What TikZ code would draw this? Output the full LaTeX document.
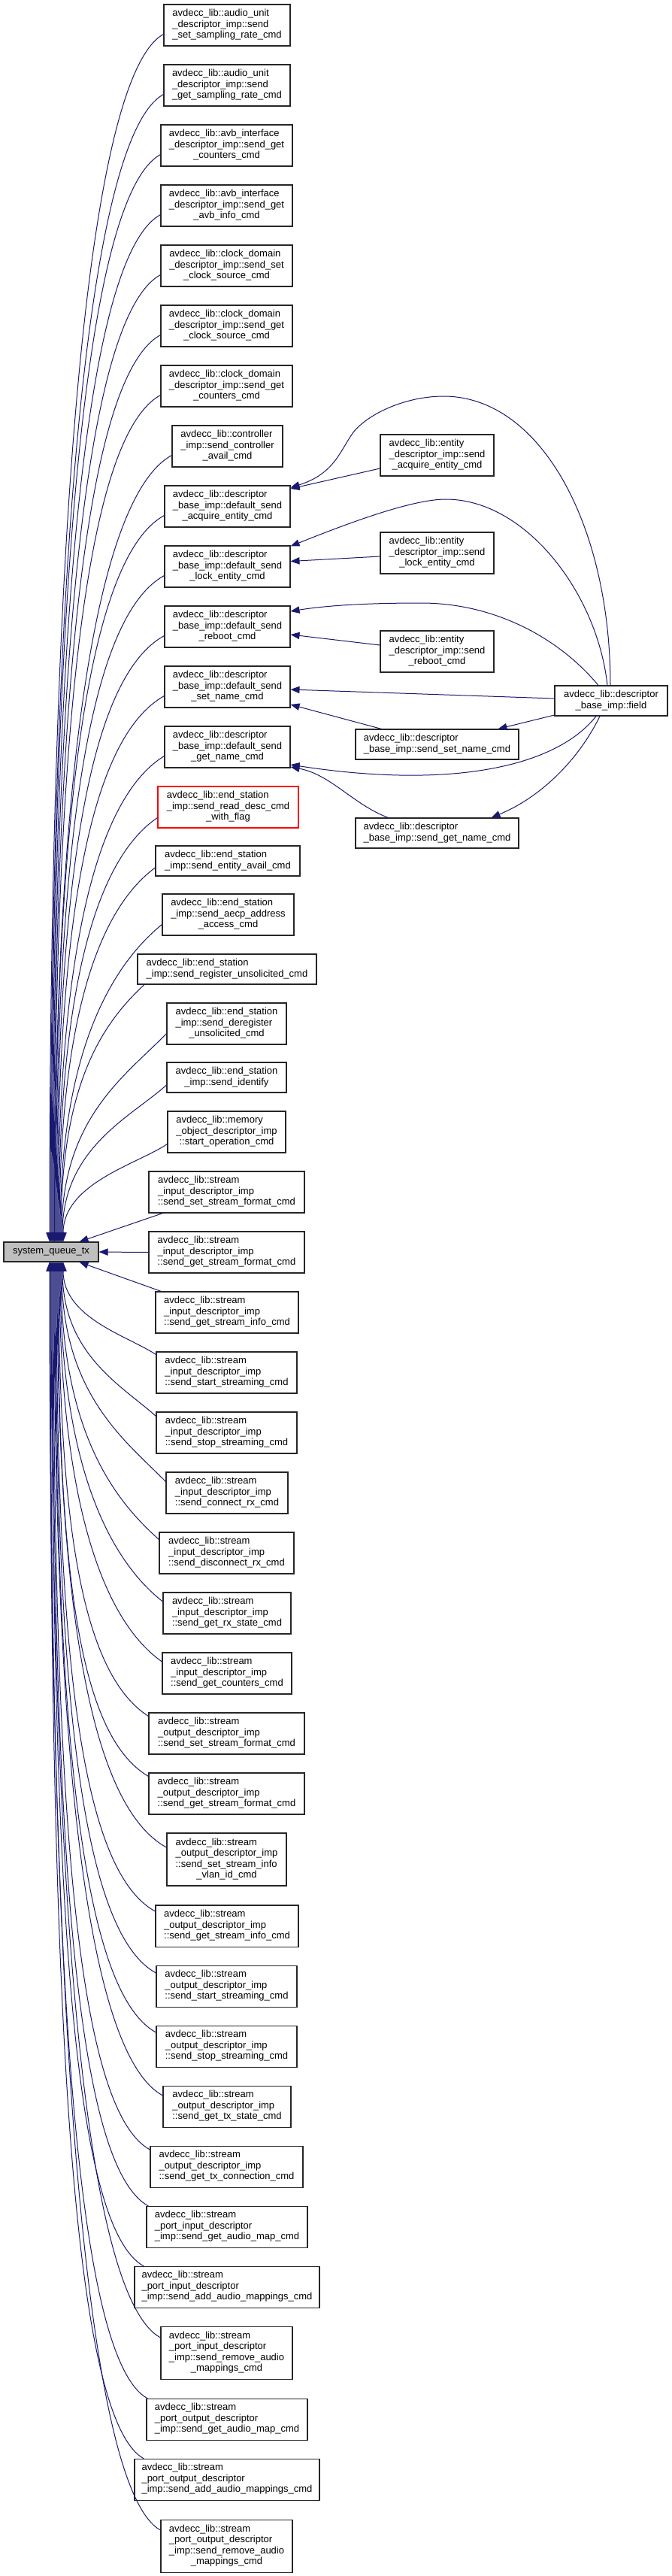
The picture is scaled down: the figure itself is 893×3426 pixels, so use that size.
\documentclass[tikz,border=0pt]{standalone}
\usepackage{fontspec}
\setmainfont{Liberation Sans}
\usetikzlibrary{arrows.meta,calc}
\definecolor{edgeblue}{HTML}{191970}
\newcommand\nf{\fontsize{9.75pt}{10.9pt}\selectfont}
\newcommand\lbl[2]{\begin{tabular}{@{}l@{}}#1\\\multicolumn{1}{@{}c@{}}{#2}\end{tabular}}
\newcommand\mknode[6][box]{\node[#1,minimum width=#4*0.75pt,minimum height=#5*0.75pt] (#2) at (#3) {#6};}
\tikzset{
  box/.style={draw=black!85,line width=0.8pt,fill=white,inner sep=0pt,font=\nf},
  redbox/.style={box,draw=red},
  fnbox/.style={box,fill=gray!50},
  callarrow/.style={draw=edgeblue,line width=0.75pt,-{Triangle[length=9pt,width=7pt]}}
}
\begin{document}
\begin{tikzpicture}[x=0.75pt,y=-0.75pt]
\useasboundingbox (0,0) rectangle (893,3426);
% left column
\mknode{n1}{302,33.5}{168}{55}{\lbl{avdecc\_lib::audio\_unit\\\_descriptor\_imp::send}{\_set\_sampling\_rate\_cmd}}
\mknode{n2}{302,113.5}{168}{55}{\lbl{avdecc\_lib::audio\_unit\\\_descriptor\_imp::send}{\_get\_sampling\_rate\_cmd}}
\mknode{n3}{301.5,193.5}{175}{55}{\lbl{avdecc\_lib::avb\_interface\\\_descriptor\_imp::send\_get}{\_counters\_cmd}}
\mknode{n4}{301.5,273.5}{175}{55}{\lbl{avdecc\_lib::avb\_interface\\\_descriptor\_imp::send\_get}{\_avb\_info\_cmd}}
\mknode{n5}{301.5,353.5}{175}{55}{\lbl{avdecc\_lib::clock\_domain\\\_descriptor\_imp::send\_set}{\_clock\_source\_cmd}}
\mknode{n6}{301.5,433.5}{175}{55}{\lbl{avdecc\_lib::clock\_domain\\\_descriptor\_imp::send\_get}{\_clock\_source\_cmd}}
\mknode{n7}{301.5,513.5}{175}{55}{\lbl{avdecc\_lib::clock\_domain\\\_descriptor\_imp::send\_get}{\_counters\_cmd}}
\mknode{n8}{302.5,593.5}{147}{55}{\lbl{avdecc\_lib::controller\\\_imp::send\_controller}{\_avail\_cmd}}
\mknode{n9}{302.5,673.5}{167}{55}{\lbl{avdecc\_lib::descriptor\\\_base\_imp::default\_send}{\_acquire\_entity\_cmd}}
\mknode{n10}{302.5,753.5}{167}{55}{\lbl{avdecc\_lib::descriptor\\\_base\_imp::default\_send}{\_lock\_entity\_cmd}}
\mknode{n11}{302.5,833.5}{167}{55}{\lbl{avdecc\_lib::descriptor\\\_base\_imp::default\_send}{\_reboot\_cmd}}
\mknode{n12}{302.5,913.5}{167}{55}{\lbl{avdecc\_lib::descriptor\\\_base\_imp::default\_send}{\_set\_name\_cmd}}
\mknode{n13}{302.5,993.5}{167}{55}{\lbl{avdecc\_lib::descriptor\\\_base\_imp::default\_send}{\_get\_name\_cmd}}
\mknode[redbox]{n14}{303.5,1073.5}{187}{55}{\lbl{avdecc\_lib::end\_station\\\_imp::send\_read\_desc\_cmd}{\_with\_flag}}
\mknode{n15}{303,1145}{192}{40}{\lbl{avdecc\_lib::end\_station}{\_imp::send\_entity\_avail\_cmd}}
\mknode{n16}{303.5,1216.5}{175}{55}{\lbl{avdecc\_lib::end\_station\\\_imp::send\_aecp\_address}{\_access\_cmd}}
\mknode{n17}{302,1289}{238}{40}{\lbl{avdecc\_lib::end\_station}{\_imp::send\_register\_unsolicited\_cmd}}
\mknode{n18}{301.5,1361.5}{159}{55}{\lbl{avdecc\_lib::end\_station\\\_imp::send\_deregister}{\_unsolicited\_cmd}}
\mknode{n19}{301.5,1433}{159}{40}{\lbl{avdecc\_lib::end\_station}{\_imp::send\_identify}}
\mknode{n20}{301.5,1505.5}{157}{55}{\lbl{avdecc\_lib::memory\\\_object\_descriptor\_imp}{::start\_operation\_cmd}}
\mknode{n21}{301.5,1585.5}{207}{55}{\lbl{avdecc\_lib::stream\\\_input\_descriptor\_imp}{::send\_set\_stream\_format\_cmd}}
\mknode{n22}{301.5,1665.5}{207}{55}{\lbl{avdecc\_lib::stream\\\_input\_descriptor\_imp}{::send\_get\_stream\_format\_cmd}}
\mknode{n23}{302,1745.5}{190}{55}{\lbl{avdecc\_lib::stream\\\_input\_descriptor\_imp}{::send\_get\_stream\_info\_cmd}}
\mknode{n24}{301.5,1825.5}{187}{55}{\lbl{avdecc\_lib::stream\\\_input\_descriptor\_imp}{::send\_start\_streaming\_cmd}}
\mknode{n25}{301.5,1905.5}{187}{55}{\lbl{avdecc\_lib::stream\\\_input\_descriptor\_imp}{::send\_stop\_streaming\_cmd}}
\mknode{n26}{302,1985.5}{162}{55}{\lbl{avdecc\_lib::stream\\\_input\_descriptor\_imp}{::send\_connect\_rx\_cmd}}
\mknode{n27}{301.5,2065.5}{179}{55}{\lbl{avdecc\_lib::stream\\\_input\_descriptor\_imp}{::send\_disconnect\_rx\_cmd}}
\mknode{n28}{302,2145.5}{170}{55}{\lbl{avdecc\_lib::stream\\\_input\_descriptor\_imp}{::send\_get\_rx\_state\_cmd}}
\mknode{n29}{302,2225.5}{172}{55}{\lbl{avdecc\_lib::stream\\\_input\_descriptor\_imp}{::send\_get\_counters\_cmd}}
\mknode{n30}{301.5,2305.5}{207}{55}{\lbl{avdecc\_lib::stream\\\_output\_descriptor\_imp}{::send\_set\_stream\_format\_cmd}}
\mknode{n31}{301.5,2385.5}{207}{55}{\lbl{avdecc\_lib::stream\\\_output\_descriptor\_imp}{::send\_get\_stream\_format\_cmd}}
\mknode{n32}{301.5,2473}{159}{70}{\lbl{avdecc\_lib::stream\\\_output\_descriptor\_imp\\::send\_set\_stream\_info}{\_vlan\_id\_cmd}}
\mknode{n33}{302,2561.5}{190}{55}{\lbl{avdecc\_lib::stream\\\_output\_descriptor\_imp}{::send\_get\_stream\_info\_cmd}}
\mknode{n34}{301.5,2641.5}{187}{55}{\lbl{avdecc\_lib::stream\\\_output\_descriptor\_imp}{::send\_start\_streaming\_cmd}}
\mknode{n35}{301.5,2721.5}{187}{55}{\lbl{avdecc\_lib::stream\\\_output\_descriptor\_imp}{::send\_stop\_streaming\_cmd}}
\mknode{n36}{302,2801.5}{170}{55}{\lbl{avdecc\_lib::stream\\\_output\_descriptor\_imp}{::send\_get\_tx\_state\_cmd}}
\mknode{n37}{301.5,2881.5}{203}{55}{\lbl{avdecc\_lib::stream\\\_output\_descriptor\_imp}{::send\_get\_tx\_connection\_cmd}}
\mknode{n38}{302,2961.5}{214}{55}{\lbl{avdecc\_lib::stream\\\_port\_input\_descriptor}{\_imp::send\_get\_audio\_map\_cmd}}
\mknode{n39}{302,3041.5}{246}{55}{\lbl{avdecc\_lib::stream\\\_port\_input\_descriptor}{\_imp::send\_add\_audio\_mappings\_cmd}}
\mknode{n40}{301.5,3129}{175}{70}{\lbl{avdecc\_lib::stream\\\_port\_input\_descriptor\\\_imp::send\_remove\_audio}{\_mappings\_cmd}}
\mknode{n41}{302,3217.5}{214}{55}{\lbl{avdecc\_lib::stream\\\_port\_output\_descriptor}{\_imp::send\_get\_audio\_map\_cmd}}
\mknode{n42}{302,3297.5}{246}{55}{\lbl{avdecc\_lib::stream\\\_port\_output\_descriptor}{\_imp::send\_add\_audio\_mappings\_cmd}}
\mknode{n43}{301.5,3386}{175}{70}{\lbl{avdecc\_lib::stream\\\_port\_output\_descriptor\\\_imp::send\_remove\_audio}{\_mappings\_cmd}}
% right side
\mknode{e1}{581.5,605.5}{151}{55}{\lbl{avdecc\_lib::entity\\\_descriptor\_imp::send}{\_acquire\_entity\_cmd}}
\mknode{e2}{581.5,735.5}{151}{55}{\lbl{avdecc\_lib::entity\\\_descriptor\_imp::send}{\_lock\_entity\_cmd}}
\mknode{e3}{581.5,866.5}{151}{55}{\lbl{avdecc\_lib::entity\\\_descriptor\_imp::send}{\_reboot\_cmd}}
\mknode{fd}{813,932}{150}{40}{\lbl{avdecc\_lib::descriptor}{\_base\_imp::field}}
\mknode{sn}{581.5,990}{217}{40}{\lbl{avdecc\_lib::descriptor}{\_base\_imp::send\_set\_name\_cmd}}
\mknode{gn}{581.5,1108}{217}{40}{\lbl{avdecc\_lib::descriptor}{\_base\_imp::send\_get\_name\_cmd}}
% callee
\mknode[fnbox]{sq}{68,1665}{126}{26}{system\_queue\_tx}

% edges from upper callers
\foreach \n/\dx/\dy/\d/\xo in {n1/0/12/1606/-2, n2/0/12/1526/-1, n3/0/12/1446/0, n4/0/12/1366/1,
  n5/0/12/1286/2, n6/0/12/1206/3, n7/0/12/1126/4, n8/0/12/1046/4.5, n9/0/12/966/5,
  n10/0/12/886/6, n11/0/12/806/7, n12/0/12/726/8, n13/0/12/646/9, n14/0/14/564/10,
  n15/0/9/498/11, n16/0/13/422/12, n17/10/20/343/13, n18/0/13/277/14, n19/0/10/209/15,
  n20/0/16/130/16}{
  \pgfmathsetmacro\ea{min(100,0.1*\d+25)}
  \pgfmathsetmacro\eb{min(55,0.2*\d)}
  \pgfmathsetmacro\ec{0.6*\d}
  \draw[callarrow] ($(\n.west)+(\dx,\dy)$) .. controls +(-\ea,\eb) and +(0,-\ec) .. ($(sq.north)+(\xo,0)$);
}
% edges from lower callers
\foreach \n/\dx/\dy/\d/\xo in {n24/0/-24/124/16, n25/0/-22/205/15, n26/0/-15/292/14,
  n27/0/-18/370/13, n28/0/-15.5/452/12, n29/0/-15.5/532/11, n30/0/-23/604/10,
  n31/0/-23/684/9, n32/0/-16/779/8, n33/0/-19.5/864/7, n34/0/-17.5/946/6,
  n35/0/-18.5/1025/5, n36/0/-14.5/1109/4, n37/0/-22.5/1181/3, n38/3/-27.5/1256/2,
  n39/13/-27.5/1336/1, n40/0/-20/1431/0, n41/2/-27.5/1512/-1, n42/13/-27.5/1592/-1.5,
  n43/0/-21/1687/-2}{
  \pgfmathsetmacro\ea{min(100,0.1*\d+25)}
  \pgfmathsetmacro\eb{min(55,0.2*\d)}
  \pgfmathsetmacro\ec{0.6*\d}
  \draw[callarrow] ($(\n.west)+(\dx,\dy)$) .. controls +(-\ea,-\eb) and +(0,\ec) .. ($(sq.south)+(\xo,0)$);
}
% near callers (straight)
\draw[callarrow] ($(n21.south west)+(19,0)$) -- ($(sq.north east)+(-26,0)$);
\draw[callarrow] (n22.west) -- (sq.east);
\draw[callarrow] ($(n23.north west)+(8,0)$) -- ($(sq.south east)+(-26,0)$);

% right-side edges
\draw[callarrow] ($(e1.west)+(0,17.5)$) -- ($(n9.east)+(0,-23.5)$);
\draw[callarrow] ($(fd.north)+(-1,0)$) .. controls (812,700) and (720,527) .. (590,527)
  .. controls (540,527) and (490,550) .. (470,575)
  .. controls (452,600) and (445,630) .. ($(n9.east)+(0,-25)$);
\draw[callarrow] ($(e2.west)+(0,4.5)$) -- ($(n10.east)+(0,-7)$);
\draw[callarrow] ($(fd.north)+(-5,0)$) .. controls (795,790) and (700,664) .. (593,664)
  .. controls (550,664) and (470,693) .. ($(n10.north east)+(0,1)$);
\draw[callarrow] ($(fd.north)+(-17,0)$) .. controls (745,850) and (660,802) .. (560,802)
  .. controls (480,802) and (430,806) .. ($(n11.east)+(0,-20.5)$);
\draw[callarrow] ($(e3.west)+(0,-8.5)$) -- ($(n11.east)+(0,10.5)$);
\draw[callarrow] ($(fd.west)+(0,-3)$) -- ($(n12.east)+(0,3.5)$);
\draw[callarrow] ($(sn.north west)+(35,0)$) -- ($(n12.east)+(0,23.5)$);
\draw[callarrow] ($(fd.west)+(0,19)$) -- ($(sn.north east)+(-28,0)$);
\draw[callarrow] ($(fd.south)+(-20,0)$) .. controls (740,1020) and (600,1050) .. ($(n13.east)+(0,23.5)$);
\draw[callarrow] ($(gn.north west)+(44,0)$) .. controls (470,1070) and (440,1030) .. ($(n13.east)+(0,26.5)$);
\draw[callarrow] ($(fd.south)+(-15,0)$) .. controls (770,1010) and (720,1060) .. ($(gn.north east)+(-37,0)$);
\end{tikzpicture}
\end{document}
